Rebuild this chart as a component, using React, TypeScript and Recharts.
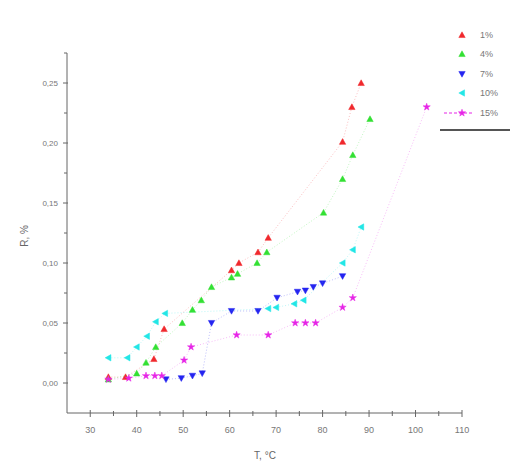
import React from "react";
import { ScatterChart, Scatter, XAxis, YAxis } from "recharts";

// T, °C and R, % for each concentration
const temp1 = [33.9, 37.6, 43.7, 45.9, 60.4, 62.0, 66.1, 68.3, 84.3, 86.3, 88.3];
const val1 = [0.005, 0.005, 0.02, 0.045, 0.094, 0.1, 0.109, 0.121, 0.201, 0.23, 0.25];

const temp4 = [33.9, 40.0, 42.0, 44.1, 49.8, 52.0, 53.9, 56.1, 60.4, 61.7, 65.9, 68.0, 80.2, 84.3, 86.5, 90.2];
const val4 = [0.003, 0.008, 0.017, 0.03, 0.05, 0.061, 0.069, 0.08, 0.088, 0.091, 0.1, 0.109, 0.142, 0.17, 0.19, 0.22];

const temp7 = [46.3, 49.6, 52.0, 54.1, 56.1, 60.4, 66.1, 70.2, 74.6, 76.3, 78.0, 80.0, 84.3];
const val7 = [0.003, 0.004, 0.006, 0.008, 0.05, 0.06, 0.06, 0.071, 0.076, 0.077, 0.08, 0.083, 0.089];

const temp10 = [33.9, 38.0, 40.0, 42.2, 44.1, 46.1, 68.3, 70.0, 73.9, 75.9, 84.3, 86.5, 88.3];
const val10 = [0.021, 0.021, 0.03, 0.039, 0.051, 0.058, 0.062, 0.063, 0.066, 0.069, 0.1, 0.111, 0.13];

const temp15 = [33.9, 38.3, 42.0, 43.9, 45.4, 50.2, 51.7, 61.5, 68.3, 74.1, 76.3, 78.5, 84.3, 86.5, 102.4];
const val15 = [0.003, 0.004, 0.006, 0.006, 0.006, 0.019, 0.03, 0.04, 0.04, 0.05, 0.05, 0.05, 0.063, 0.071, 0.23];

const xTicks = [30, 35, 40, 45, 50, 55, 60, 65, 70, 75, 80, 85, 90, 95, 100, 105, 110];
const yTicks = [0, 0.025, 0.05, 0.075, 0.1, 0.125, 0.15, 0.175, 0.2, 0.225, 0.25, 0.275];

const toPoints = (xs: number[], ys: number[]) => xs.map((x, i) => ({ x, y: ys[i] }));

const series = [
  { name: "1%", color: "#f0282d", kind: "up", data: toPoints(temp1, val1) },
  { name: "4%", color: "#33e033", kind: "up", data: toPoints(temp4, val4) },
  { name: "7%", color: "#2424f0", kind: "down", data: toPoints(temp7, val7) },
  { name: "10%", color: "#22e6e6", kind: "left", data: toPoints(temp10, val10) },
  { name: "15%", color: "#e624e6", kind: "star", data: toPoints(temp15, val15) },
];

const axisColor = "#666";
const font = "'Liberation Sans', Arial, sans-serif";

function Marker({ cx, cy, fill, kind }: any) {
  const s = 3.2;
  let pts = "";
  if (kind === "up") pts = `${cx},${cy - s} ${cx + s},${cy + s * 0.8} ${cx - s},${cy + s * 0.8}`;
  else if (kind === "down") pts = `${cx},${cy + s} ${cx + s},${cy - s * 0.8} ${cx - s},${cy - s * 0.8}`;
  else if (kind === "left") pts = `${cx - s},${cy} ${cx + s * 0.8},${cy - s} ${cx + s * 0.8},${cy + s}`;
  else {
    const p: string[] = [];
    for (let i = 0; i < 10; i++) {
      const r = i % 2 === 0 ? s + 0.6 : s * 0.45;
      const a = (Math.PI / 5) * i - Math.PI / 2;
      p.push(`${cx + r * Math.cos(a)},${cy + r * Math.sin(a)}`);
    }
    pts = p.join(" ");
  }
  return <polygon points={pts} fill={fill} stroke={fill} strokeWidth={0.5} />;
}

function XTick({ x, y, payload }: any) {
  const v = payload.value;
  const major = v % 10 === 0;
  const ay = y - 9;
  return (
    <g>
      <line x1={x} x2={x} y1={ay - (major ? 3 : 2)} y2={ay + (major ? 4 : 3)} stroke={axisColor} />
      {major && (
        <text x={x} y={ay + 20} textAnchor="middle" fontSize={9} fill="#777" fontFamily={font}>
          {v}
        </text>
      )}
    </g>
  );
}

function YTick({ x, y, payload }: any) {
  const v = payload.value;
  const major = Math.round(v * 1000) % 50 === 0;
  const ax = x + 9;
  return (
    <g>
      <line x1={ax - (major ? 4 : 3)} x2={ax + (major ? 1 : 0)} y1={y} y2={y} stroke={axisColor} />
      {major && (
        <text x={ax - 9} y={y + 3} textAnchor="end" fontSize={8} fill="#777" fontFamily={font}>
          {v.toFixed(2).replace(".", ",")}
        </text>
      )}
    </g>
  );
}

function LegendBox() {
  return (
    <div style={{ width: 70, borderBottom: "2px solid #555", paddingBottom: 6, fontFamily: font }}>
      {series.map((s) => (
        <div key={s.name} style={{ display: "flex", alignItems: "center", height: 19.5 }}>
          <svg width={34} height={12}>
            {s.kind === "star" && (
              <line x1={4} x2={34} y1={6} y2={6} stroke={s.color} strokeDasharray="3 2" strokeWidth={1} />
            )}
            <Marker cx={22} cy={6} fill={s.color} kind={s.kind} />
          </svg>
          <span style={{ fontSize: 9, color: "#777", marginLeft: 6 }}>{s.name}</span>
        </div>
      ))}
    </div>
  );
}

export default function App() {
  return (
    <div style={{ position: "absolute", left: 0, top: 0, width: 511, height: 466, background: "#fff" }}>
      <ScatterChart width={511} height={466} margin={{ top: 53, right: 49, bottom: 0, left: 0 }}>
        <XAxis
          type="number"
          dataKey="x"
          domain={[25, 110]}
          ticks={xTicks}
          interval={0}
          tickLine={false}
          tickSize={5}
          tickMargin={4}
          height={53}
          stroke={axisColor}
          tick={<XTick />}
          allowDataOverflow
        />
        <YAxis
          type="number"
          dataKey="y"
          domain={[-0.025, 0.275]}
          ticks={yTicks}
          interval={0}
          tickLine={false}
          tickSize={5}
          tickMargin={4}
          width={67}
          stroke={axisColor}
          tick={<YTick />}
          allowDataOverflow
        />
        {series.map((s) => (
          <Scatter
            key={s.name}
            name={s.name}
            data={s.data}
            fill={s.color}
            isAnimationActive={false}
            line={{ stroke: s.color, strokeWidth: 1, strokeDasharray: "1 2", strokeOpacity: 0.3 }}
            lineType="joint"
            shape={(p: any) => <Marker cx={p.cx} cy={p.cy} fill={s.color} kind={s.kind} />}
          />
        ))}
      </ScatterChart>
      <div style={{ position: "absolute", left: 440, top: 25 }}>
        <LegendBox />
      </div>
      <div
        style={{
          position: "absolute",
          left: 24,
          top: 236,
          transform: "translate(-50%, -50%) rotate(-90deg)",
          fontSize: 10,
          color: "#666",
          fontFamily: font,
          whiteSpace: "nowrap",
        }}
      >
        R, %
      </div>
      <div
        style={{
          position: "absolute",
          left: 265,
          top: 455,
          transform: "translate(-50%, -50%)",
          fontSize: 10,
          color: "#666",
          fontFamily: font,
          whiteSpace: "nowrap",
        }}
      >
        T, °C
      </div>
    </div>
  );
}
